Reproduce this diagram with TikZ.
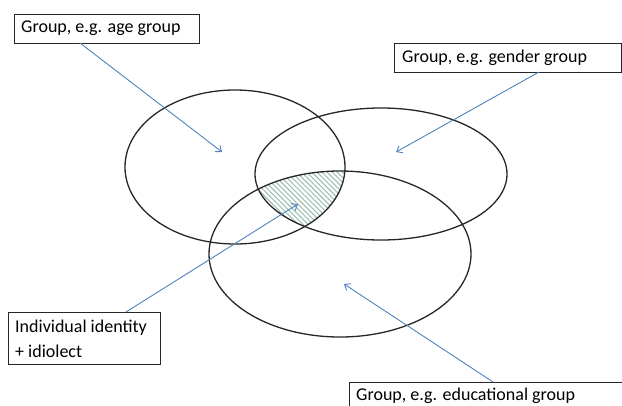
\documentclass[tikz,border=0pt]{standalone}
\usepackage{fontspec}
\setmainfont{Carlito}
\usetikzlibrary{arrows.meta,patterns.meta}
\definecolor{arrowblue}{RGB}{79,129,189}
\definecolor{hatchcol}{RGB}{160,192,178}
\tikzset{
  lbl/.style={draw=black!85, line width=1.2pt, anchor=north west, inner sep=0pt},
  lbltext/.style={anchor=west, inner sep=0pt, font=\fontsize{18}{22}\selectfont},
  venn/.style={draw=black!85, line width=1.3pt},
  pointer/.style={draw=arrowblue, line width=0.9pt, -{Straight Barb[length=5pt,width=8pt]}}
}
\begin{document}
\begin{tikzpicture}[x=1pt,y=-1pt]
\useasboundingbox (0,0) rectangle (622,405);
\clip (0,0) rectangle (622,405);
% hatched intersection
\begin{scope}
  \clip (235,167) ellipse [x radius=110, y radius=77];
  \clip (381,174) ellipse [x radius=126, y radius=66];
  \fill[pattern={Lines[angle=-45, distance=3.6pt, line width=1.1pt]}, pattern color=hatchcol] (340,254) ellipse [x radius=131, y radius=83];
\end{scope}
\draw[venn] (235,167) ellipse [x radius=110, y radius=77];
\draw[venn] (381,174) ellipse [x radius=126, y radius=66];
\draw[venn] (340,254) ellipse [x radius=131, y radius=83];
% boxes
\node[lbl, minimum width=185pt, minimum height=29pt] (age) at (14,14) {};
\node[lbltext] (agetxt) at (21,28.5) {Group, e.g. age group};
\node[lbl, minimum width=227pt, minimum height=29pt] (gender) at (394,43) {};
\node[lbltext] (gendertxt) at (402,57.5) {Group, e.g. gender group};
\node[lbl, minimum width=152pt, minimum height=52pt] (indiv) at (8,312) {};
\node[lbltext] (indivtxt1) at (15,328) {Individual identity};
\node[lbltext] (indivtxt2) at (15,351) {+ idiolect};
\node[lbl, minimum width=290pt, minimum height=40pt] (edu) at (349,382) {};
\node[lbltext] (edutxt) at (356,396) {Group, e.g. educational group};
% arrow ends
\coordinate (agestart) at (80,43);
\coordinate (agetip) at (222,152);
\coordinate (genderstart) at (539,72);
\coordinate (gendertip) at (396,152);
\coordinate (indivstart) at (126,312);
\coordinate (indivtip) at (298,204);
\coordinate (edustart) at (493,382);
\coordinate (edutip) at (344,284);
\draw[pointer] (agestart) -- (agetip);
\draw[pointer] (genderstart) -- (gendertip);
\draw[pointer] (indivstart) -- (indivtip);
\draw[pointer] (edustart) -- (edutip);
\end{tikzpicture}
\end{document}
